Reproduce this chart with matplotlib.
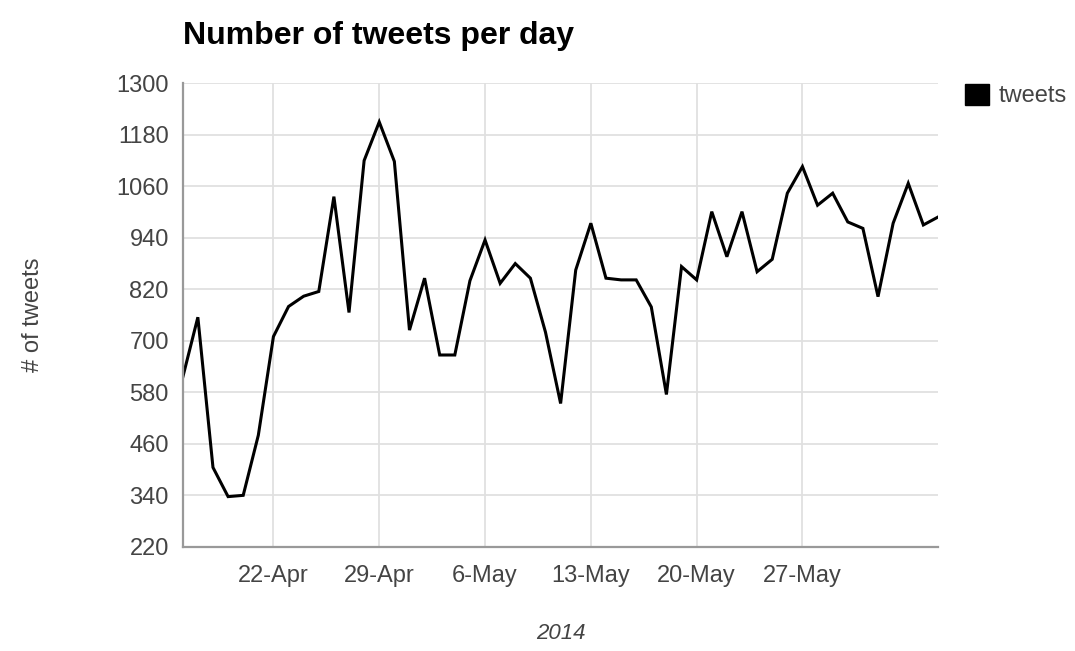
import matplotlib
matplotlib.use("Agg")
import matplotlib.pyplot as plt
from matplotlib.patches import Patch
import pandas as pd

# daily tweet counts (16-Apr-2014 .. 5-Jun-2014)
start_day = "2014-04-16"
tweets = [615, 755, 405, 337, 340, 480, 710, 780, 804, 815,
          1036, 766, 1120, 1210, 1118, 725, 846, 667, 667, 840,
          935, 834, 880, 846, 720, 554, 865, 974, 846, 842,
          842, 779, 575, 873, 842, 1001, 896, 1001, 861, 890,
          1044, 1106, 1016, 1044, 977, 962, 803, 974, 1067, 970,
          989]
tick_dates = ["2014-04-22", "2014-04-29", "2014-05-06", "2014-05-13",
              "2014-05-20", "2014-05-27"]
tick_labels = ["22-Apr", "29-Apr", "6-May", "13-May", "20-May", "27-May"]
y_ticks = [220, 340, 460, 580, 700, 820, 940, 1060, 1180, 1300]

days = pd.date_range(start_day, periods=len(tweets), freq="D")

plt.rcParams["font.family"] = ["Liberation Sans", "DejaVu Sans"]
grey_txt = "#444444"

fig = plt.figure(figsize=(10.75, 6.51), dpi=100)
ax = fig.add_axes([0.170, 0.160, 0.703, 0.712])

ax.plot(days, tweets, color="black", lw=2.2, solid_joinstyle="miter")

ax.set_xlim(days[0], days[-1])
ax.set_ylim(220, 1300)
ax.set_yticks(y_ticks)
ax.set_xticks(pd.to_datetime(tick_dates))
ax.set_xticklabels(tick_labels)

ax.grid(True, color="#e0e0e0", lw=1.3)
ax.set_axisbelow(True)
for side in ("top", "right"):
    ax.spines[side].set_visible(False)
for side in ("left", "bottom"):
    ax.spines[side].set_color("#999999")
    ax.spines[side].set_linewidth(1.6)
ax.tick_params(length=0, labelsize=17, labelcolor=grey_txt)
ax.tick_params(axis="y", pad=10)
ax.tick_params(axis="x", pad=13)

ax.set_title("Number of tweets per day", loc="left", fontsize=23,
             fontweight="bold", x=0.0, y=1.0, pad=28)
ax.set_ylabel("# of tweets", fontsize=17, color=grey_txt, labelpad=52)
ax.set_xlabel("2014", fontsize=16, color=grey_txt, style="italic", labelpad=26)

leg = fig.legend(handles=[Patch(facecolor="black", edgecolor="black")],
                 labels=["tweets"], loc="upper left",
                 bbox_to_anchor=(0.889, 0.886), frameon=False,
                 fontsize=17, handlelength=1.0, handleheight=1.0,
                 handletextpad=0.4, borderaxespad=0)
for t in leg.get_texts():
    t.set_color(grey_txt)

fig.savefig("out.png", dpi=100)
